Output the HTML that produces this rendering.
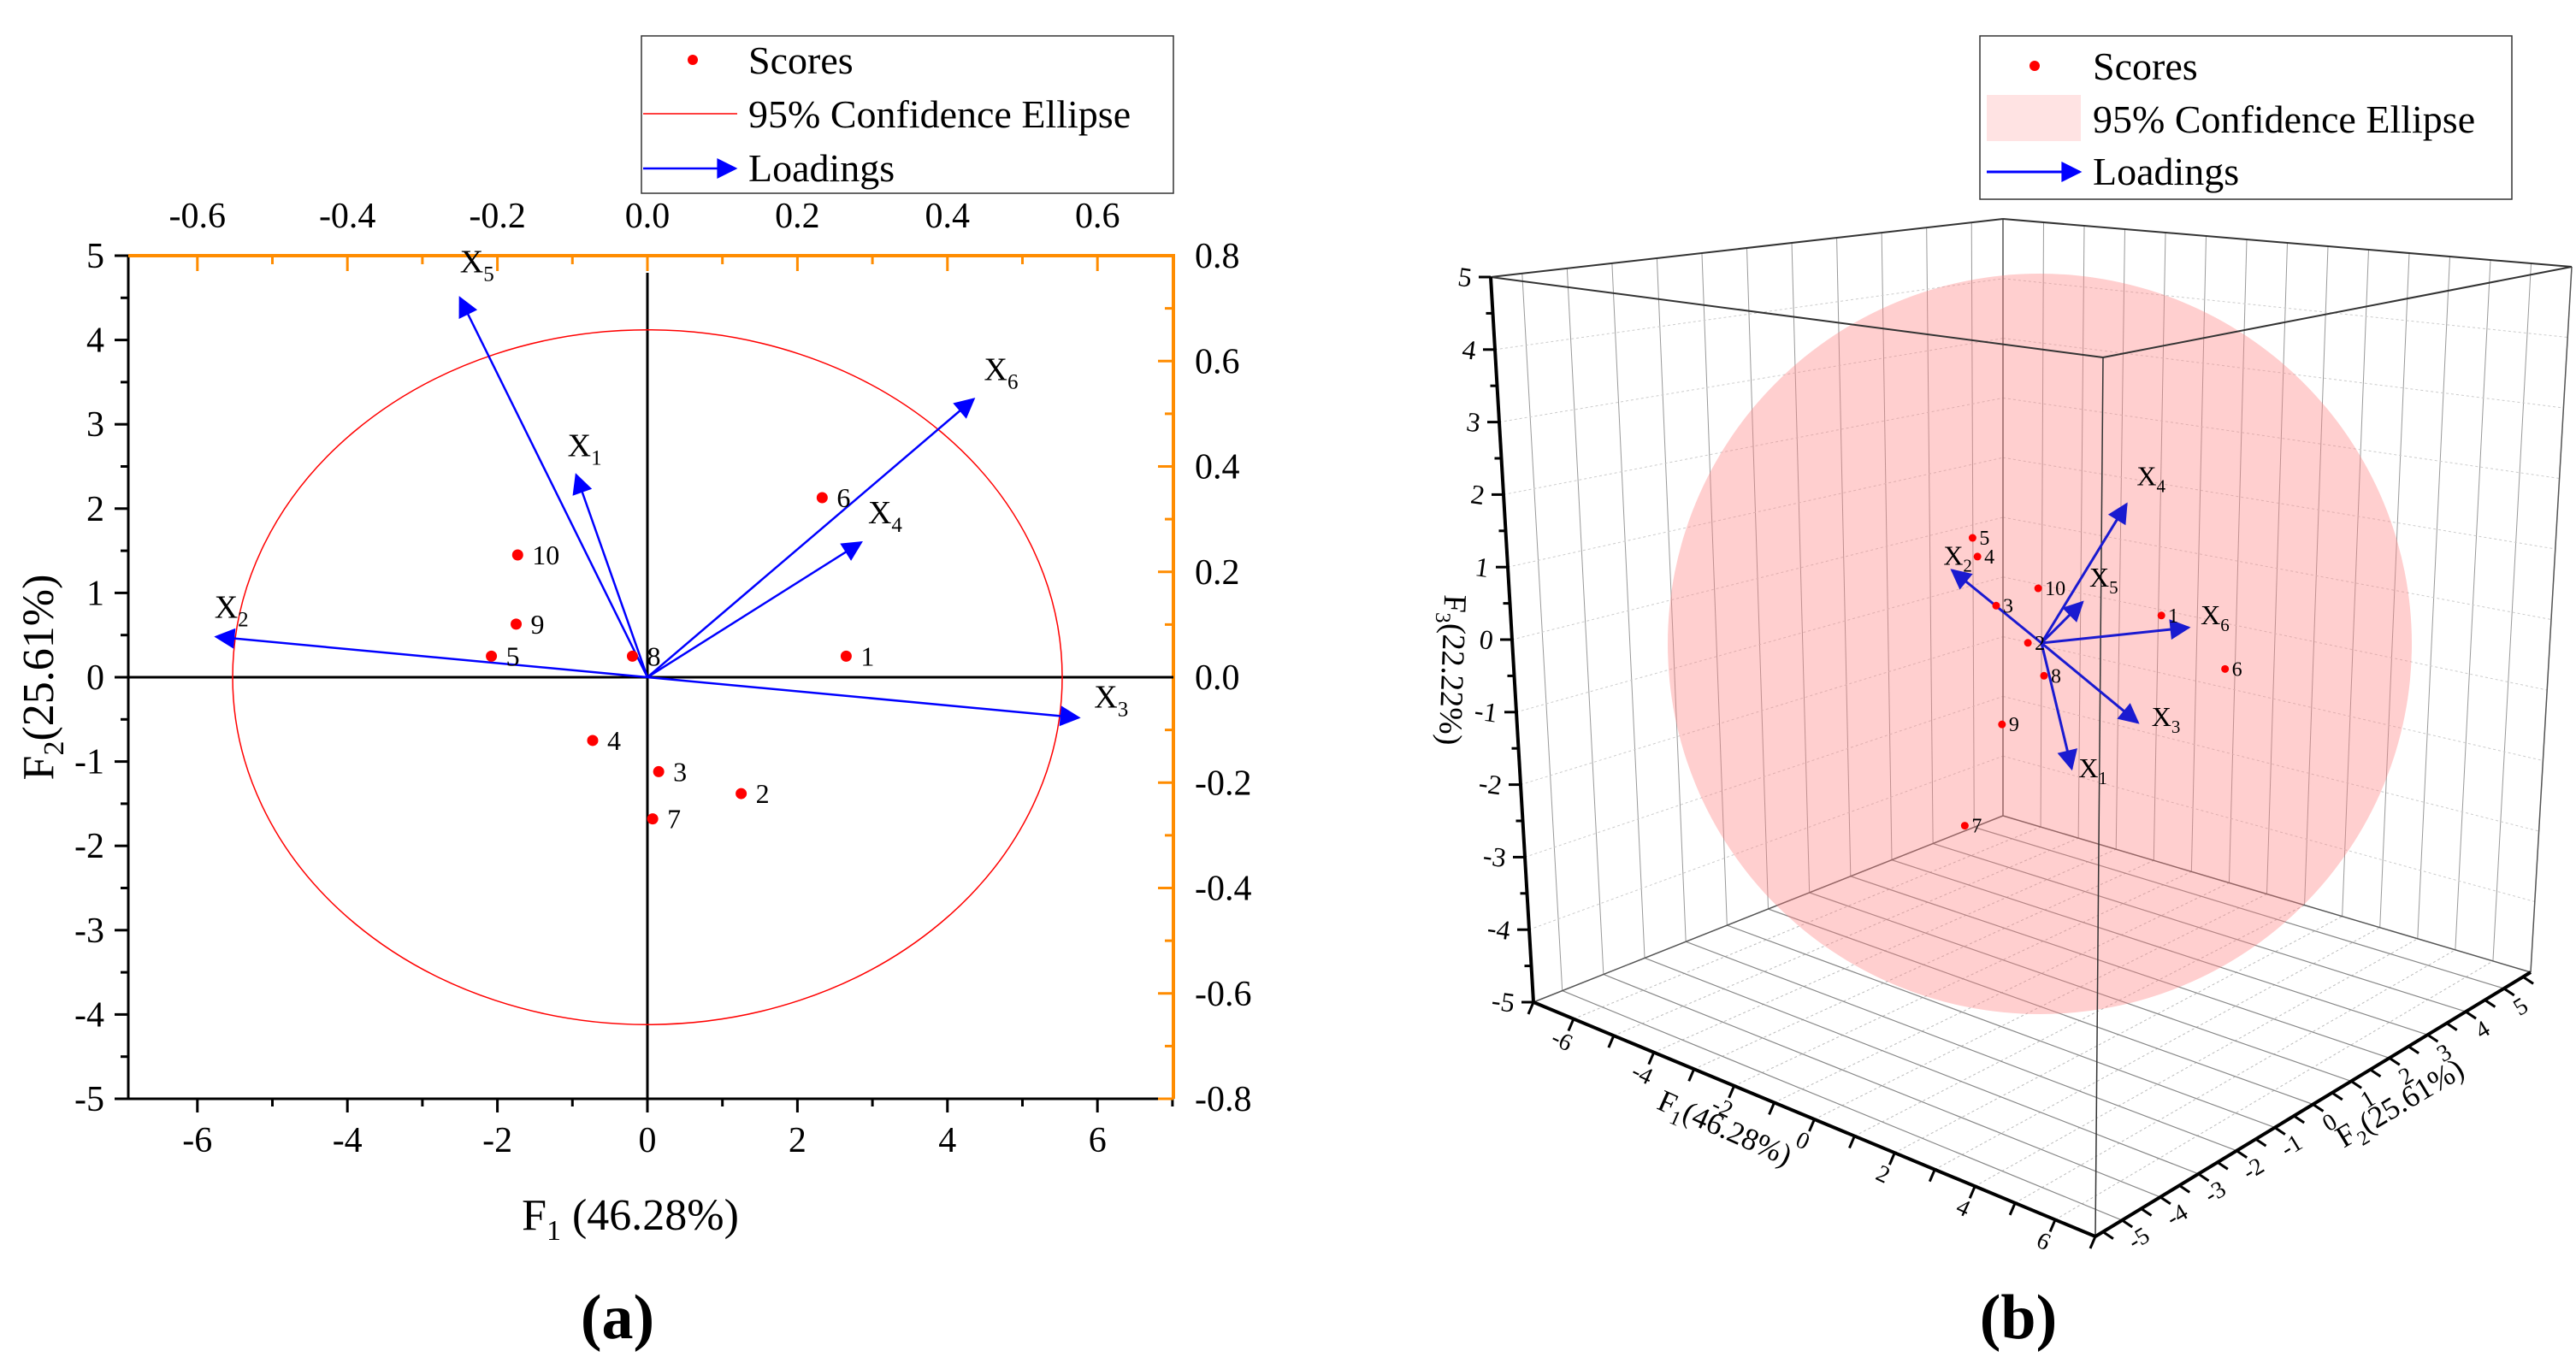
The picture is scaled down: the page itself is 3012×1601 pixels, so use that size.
<!DOCTYPE html>
<html><head><meta charset="utf-8"><style>
html,body{margin:0;padding:0;background:#fff;}
svg{display:block;}
svg text, svg tspan{font-family:"Liberation Serif","Times New Roman","DejaVu Serif",serif !important;}
</style></head><body>
<svg id="chart" width="3012" height="1601" viewBox="0 0 3012 1601" xmlns="http://www.w3.org/2000/svg">
<defs>
<marker id="ah" viewBox="0 0 10 10" refX="9" refY="5" markerWidth="34" markerHeight="24" markerUnits="userSpaceOnUse" orient="auto"><path d="M0,0 L10,5 L0,10 z" fill="#0000ff"/></marker>
<marker id="ah3" viewBox="0 0 10 10" refX="9" refY="5" markerWidth="30" markerHeight="24" markerUnits="userSpaceOnUse" orient="auto"><path d="M0,0 L10,5 L0,10 z" fill="#1a1ad0"/></marker>
</defs>
<g id="panelA"></g>
<g id="panelB"></g>
</svg>
<script>
// ---------- Panel (a) data ----------
const scoreLabels = ["1","2","3","4","5","6","7","8","9","10"];
const scoreF1 = [2.65, 1.25, 0.15, -0.73, -2.08, 2.33, 0.07, -0.20, -1.75, -1.73];
const scoreF2 = [0.25, -1.38, -1.12, -0.75, 0.25, 2.13, -1.68, 0.25, 0.63, 1.45];
const loadNames = ["X1","X2","X3","X4","X5","X6"];
const loadF1 = [-0.95, -5.75, 5.75, 2.85, -2.5, 4.35];
const loadF2 = [2.4, 0.48, -0.48, 1.6, 4.5, 3.3];
const ellipseRx = 5.53, ellipseRy = 4.12;
const xTicks = [-6,-4,-2,0,2,4,6];
const yTicks = [5,4,3,2,1,0,-1,-2,-3,-4,-5];
const topTicks = [-0.6,-0.4,-0.2,0.0,0.2,0.4,0.6];
const rightTicks = [0.8,0.6,0.4,0.2,0.0,-0.2,-0.4,-0.6,-0.8];

// ---------- Panel (b) data ----------
const s3F1 = [2.70, 1.07, 0.02, -0.82, -1.96, 2.36, -0.17, -0.19, -1.61, -1.56];
const s3F2 = [0.25, -1.38, -1.12, -0.75, 0.25, 2.13, -1.68, 0.25, 0.63, 1.45];
const s3F3 = [0.68, 0.39, 0.72, 1.22, 1.15, -0.44, -2.23, -0.52, -1.44, 0.29];
const l3F1 = [-1.69, -2.70, 2.87, 0.46, -3.57, 0.27];
const l3F2 = [2.4, 0.48, -0.48, 1.6, 4.5, 3.3];
const l3F3 = [-2.38, 0.57, -0.64, 1.68, -0.71, -0.35];
const f1Ticks3 = [-6,-4,-2,0,2,4,6];
const f2Ticks3 = [-5,-4,-3,-2,-1,0,1,2,3,4,5];
const f3Ticks3 = [-5,-4,-3,-2,-1,0,1,2,3,4,5];

const NS = "http://www.w3.org/2000/svg";
function mk(tag, attrs, parent, text){
  const e = document.createElementNS(NS, tag);
  for (const k in attrs) e.setAttribute(k, attrs[k]);
  if (text !== undefined) e.textContent = text;
  parent.appendChild(e); return e;
}
function fmt(v){ return (Math.abs(v)<1e-9?0:v).toFixed(1); }

// ===== Panel A =====
const A = document.getElementById('panelA');
const X = v => 757 + v*87.7;
const Y = v => 792 - v*98.6;
const XT = v => X(v*10);
const YR = v => Y(v/0.16);
const FL=150, FR=1372, FT=299, FB=1285;

let lg = mk('g',{},A);


mk('rect',{x:750,y:42,width:622,height:184,fill:'#fff',stroke:'#333','stroke-width':1.5},lg);
mk('circle',{cx:810,cy:70,r:6,fill:'#ff0000'},lg);
mk('text',{x:875,y:86,'font-size':46},lg,'Scores');
mk('line',{x1:752,y1:133,x2:862,y2:133,stroke:'#ff0000','stroke-width':1.5},lg);
mk('text',{x:875,y:149,'font-size':46},lg,'95% Confidence Ellipse');
mk('line',{x1:752,y1:197,x2:860,y2:197,stroke:'#0000ff','stroke-width':2.5,'marker-end':'url(#ah)'},lg);
mk('text',{x:875,y:212,'font-size':46},lg,'Loadings');

mk('line',{x1:FL,y1:FT,x2:FL,y2:FB,stroke:'#000','stroke-width':3},A);
mk('line',{x1:FL,y1:FB,x2:FR,y2:FB,stroke:'#000','stroke-width':3},A);
mk('line',{x1:FL,y1:FT,x2:FR+2,y2:FT,stroke:'#ff8c00','stroke-width':4},A);
mk('line',{x1:FR,y1:FT,x2:FR,y2:FB,stroke:'#ff8c00','stroke-width':4},A);

for (let v=-6; v<=7; v++){
  mk('line',{x1:X(v),y1:FB,x2:X(v),y2:FB+(v%2===0?16:9),stroke:'#000','stroke-width':3},A);
}
xTicks.forEach(v=>{
  const t = mk('text',{x:X(v),y:FB+62,'font-size':42,'text-anchor':'middle'},A,String(v));
  
  
});
for (let v=-5; v<=5; v+=0.5){
  mk('line',{x1:FL,y1:Y(v),x2:FL-(Number.isInteger(v)?16:9),y2:Y(v),stroke:'#000','stroke-width':3},A);
}
yTicks.forEach(v=>{
  const t = mk('text',{x:FL-28,y:Y(v)+14,'font-size':42,'text-anchor':'end'},A,String(v));
  
  
});
for (let i=-6;i<=6;i++){
  const v=i/10;
  mk('line',{x1:XT(v),y1:FT,x2:XT(v),y2:FT+(i%2===0?18:10),stroke:'#ff8c00','stroke-width':3},A);
}
topTicks.forEach(v=>{
  const t = mk('text',{x:XT(v),y:FT-33,'font-size':42,'text-anchor':'middle'},A,fmt(v));
  
  
});
for (let i=-8;i<=8;i++){
  const v=i/10;
  mk('line',{x1:FR,y1:YR(v),x2:FR-(i%2===0?18:10),y2:YR(v),stroke:'#ff8c00','stroke-width':3},A);
}
rightTicks.forEach(v=>{
  const t = mk('text',{x:FR+25,y:YR(v)+14,'font-size':42},A,fmt(v));
  
  
});

mk('line',{x1:X(0),y1:FT+20,x2:X(0),y2:FB,stroke:'#000','stroke-width':3},A);
mk('line',{x1:FL,y1:Y(0),x2:FR,y2:Y(0),stroke:'#000','stroke-width':3},A);

const el = mk('ellipse',{cx:X(0),cy:Y(0),rx:ellipseRx*87.7,ry:ellipseRy*98.6,fill:'none',stroke:'#ff0000','stroke-width':1.5},A);



const labOffA = [[-10,-22],[-2,-22],[18,-12],[8,-22],[0,-30],[12,-22]];
loadNames.forEach((n,i)=>{
  const ln = mk('line',{x1:X(0),y1:Y(0),x2:X(loadF1[i]),y2:Y(loadF2[i]),stroke:'#0000ff','stroke-width':2.5,'marker-end':'url(#ah)'},A);
  
  
  const t = mk('text',{x:X(loadF1[i])+labOffA[i][0],y:Y(loadF2[i])+labOffA[i][1],'font-size':38},A);
  
  
  t.appendChild(document.createTextNode('X'));
  mk('tspan',{dy:10,'font-size':25},t,n.slice(1));
});
scoreLabels.forEach((s,i)=>{
  const c = mk('circle',{cx:X(scoreF1[i]),cy:Y(scoreF2[i]),r:6.5,fill:'#ff0000'},A);
  
  
  const t = mk('text',{x:X(scoreF1[i])+17,y:Y(scoreF2[i])+11,'font-size':32},A,s);
  
  
});
let xt = mk('text',{x:737,y:1438,'font-size':52,'text-anchor':'middle'},A);


xt.appendChild(document.createTextNode('F'));
mk('tspan',{dy:12,'font-size':34},xt,'1');
mk('tspan',{dy:-12},xt,' (46.28%)');
let yt = mk('text',{x:0,y:0,'font-size':52,'text-anchor':'middle',transform:'translate(62,792) rotate(-90)'},A);


yt.appendChild(document.createTextNode('F'));
mk('tspan',{dy:12,'font-size':34},yt,'2');
mk('tspan',{dy:-12},yt,'(25.61%)');
let pa = mk('text',{x:722,y:1565,'font-size':74,'font-weight':'bold','text-anchor':'middle'},A,'(a)');



// ===== Panel B =====
const B = document.getElementById('panelB');
const C = {
  L:[1793,1172], Fr:[2450,1446], R:[2959,1137], Bk:[2342,954],
  Lt:[1743,324], Frt:[2459,418], Rt:[3007,312], Bkt:[2342,256]
};
const R1=[-7,7], R2=[-5.7,5.7], R3=[-5,5];
function box(u,v,w){
  const lerp=(a,b,t)=>[a[0]+(b[0]-a[0])*t,a[1]+(b[1]-a[1])*t];
  const b0 = lerp(lerp(C.L,C.Fr,u), lerp(C.Bk,C.R,u), v);
  const b1 = lerp(lerp(C.Lt,C.Frt,u), lerp(C.Bkt,C.Rt,u), v);
  return lerp(b0,b1,w);
}
const U = f => (f-R1[0])/(R1[1]-R1[0]);
const V = f => (f-R2[0])/(R2[1]-R2[0]);
const W = f => (f-R3[0])/(R3[1]-R3[0]);
function P(f1,f2,f3){ return [2387+47.4*f1+48.3*f2+0.2*f3, 752+10.9*f1-15.4*f2-85*f3]; }
function seg(p,q,attrs,par){ return mk('line',Object.assign({x1:p[0],y1:p[1],x2:q[0],y2:q[1]},attrs),par||B); }

let lgb = mk('g',{},B);


mk('rect',{x:2315,y:42,width:622,height:191,fill:'#fff',stroke:'#333','stroke-width':1.5},lgb);
mk('circle',{cx:2379,cy:77,r:6,fill:'#ff0000'},lgb);
mk('text',{x:2447,y:93,'font-size':46},lgb,'Scores');
mk('rect',{x:2323,y:111,width:110,height:54,fill:'#ffe3e3'},lgb);
mk('text',{x:2447,y:155,'font-size':46},lgb,'95% Confidence Ellipse');
mk('line',{x1:2323,y1:201,x2:2432,y2:201,stroke:'#0000ff','stroke-width':3,'marker-end':'url(#ah)'},lgb);
mk('text',{x:2447,y:216,'font-size':46},lgb,'Loadings');

const gB = mk('g',{},B);


for (let f=-7; f<=7; f++){
  seg(box(U(f),1,0),box(U(f),1,1),{stroke:'#999','stroke-width':1},gB);
  seg(box(U(f),0,0),box(U(f),1,0),{stroke:'#bbb','stroke-width':1,'stroke-dasharray':'3,3'},gB);
}
for (let f=-5; f<=5; f++){
  seg(box(0,V(f),0),box(0,V(f),1),{stroke:'#999','stroke-width':1},gB);
  seg(box(0,V(f),0),box(1,V(f),0),{stroke:'#888','stroke-width':1.2},gB);
}
for (let f=-5; f<=5; f++){
  seg(box(0,0,W(f)),box(0,1,W(f)),{stroke:'#ccc','stroke-width':1,'stroke-dasharray':'3,3'},gB);
  seg(box(0,1,W(f)),box(1,1,W(f)),{stroke:'#ccc','stroke-width':1,'stroke-dasharray':'3,3'},gB);
}
seg(C.Bk,C.Bkt,{stroke:'#555','stroke-width':1.5});
seg(C.R,C.Rt,{stroke:'#555','stroke-width':1.5});
seg(C.Bk,C.R,{stroke:'#555','stroke-width':1.5});
seg(C.L,C.Bk,{stroke:'#555','stroke-width':1.5});

const sph = mk('ellipse',{cx:2385,cy:753,rx:435,ry:433,fill:'rgba(255,130,130,0.38)'},B);



seg(C.Lt,C.Bkt,{stroke:'#333','stroke-width':2});
seg(C.Bkt,C.Rt,{stroke:'#333','stroke-width':2});
seg(C.Lt,C.Frt,{stroke:'#333','stroke-width':2});
seg(C.Frt,C.Rt,{stroke:'#333','stroke-width':2});
seg(C.Frt,C.Fr,{stroke:'#333','stroke-width':1.5});

const ax3 = seg(C.L,C.Lt,{stroke:'#000','stroke-width':4});


const ax1 = seg(C.L,C.Fr,{stroke:'#000','stroke-width':4});


const ax2 = seg(C.Fr,C.R,{stroke:'#000','stroke-width':4});



for (let f=-5; f<=5; f+=0.5){
  const p=box(0,0,W(f)); seg(p,[p[0]-(Number.isInteger(f)?14:8),p[1]],{stroke:'#000','stroke-width':3});
}
f3Ticks3.forEach(f=>{
  const p=box(0,0,W(f));
  const t=mk('text',{x:p[0]-22,y:p[1]+12,'font-size':32,'text-anchor':'end',transform:`rotate(8 ${p[0]-22} ${p[1]})`},B,String(f));
  
  
});
for (let f=-7; f<=7; f++){
  const p=box(U(f),0,0); seg(p,[p[0]-6,p[1]+14],{stroke:'#000','stroke-width':3});
}
f1Ticks3.forEach(f=>{
  const p=box(U(f),0,0);
  const t=mk('text',{x:p[0]-14,y:p[1]+34,'font-size':28,'text-anchor':'middle',transform:`rotate(25 ${p[0]-14} ${p[1]+26})`},B,String(f));
  
  
});
for (let f=-5.5; f<=5.5; f+=0.5){
  const p=box(1,V(f),0); seg(p,[p[0]+12,p[1]+8],{stroke:'#000','stroke-width':3});
}
f2Ticks3.forEach(f=>{
  const p=box(1,V(f),0);
  const t=mk('text',{x:p[0]+20,y:p[1]+30,'font-size':28,'text-anchor':'middle',transform:`rotate(-31 ${p[0]+20} ${p[1]+22})`},B,String(f));
  
  
});

let t1 = mk('text',{x:0,y:0,'font-size':36,'text-anchor':'middle',transform:'translate(2012,1330) rotate(24)'},B);


t1.appendChild(document.createTextNode('F'));
mk('tspan',{dy:9,'font-size':24},t1,'1');
mk('tspan',{dy:-9},t1,'(46.28%)');
let t2 = mk('text',{x:0,y:0,'font-size':36,'text-anchor':'middle',transform:'translate(2812,1300) rotate(-31)'},B);


t2.appendChild(document.createTextNode('F'));
mk('tspan',{dy:9,'font-size':24},t2,'2');
mk('tspan',{dy:-9},t2,'(25.61%)');
let t3 = mk('text',{x:0,y:0,'font-size':38,'text-anchor':'middle',transform:'translate(1686,783) rotate(92)'},B);


t3.appendChild(document.createTextNode('F'));
mk('tspan',{dy:9,'font-size':25},t3,'3');
mk('tspan',{dy:-9},t3,'(22.22%)');

const labOffB = [[8,10],[-10,-6],[16,4],[12,-22],[8,-18],[14,-4]];
loadNames.forEach((n,i)=>{
  const o=P(0,0,0), q=P(l3F1[i],l3F2[i],l3F3[i]);
  const ln=mk('line',{x1:o[0],y1:o[1],x2:q[0],y2:q[1],stroke:'#1a1ad0','stroke-width':3,'marker-end':'url(#ah3)'},B);
  
  
  const t=mk('text',{x:q[0]+labOffB[i][0],y:q[1]+labOffB[i][1],'font-size':32},B);
  
  
  t.appendChild(document.createTextNode('X'));
  mk('tspan',{dy:8,'font-size':21},t,n.slice(1));
});
scoreLabels.forEach((s,i)=>{
  const p=P(s3F1[i],s3F2[i],s3F3[i]);
  const c=mk('circle',{cx:p[0],cy:p[1],r:4.5,fill:'#ff0000'},B);
  
  
  const t=mk('text',{x:p[0]+8,y:p[1]+8,'font-size':24},B,s);
  
  
});
let pb = mk('text',{x:2360,y:1565,'font-size':74,'font-weight':'bold','text-anchor':'middle'},B,'(b)');


</script>
</body></html>
